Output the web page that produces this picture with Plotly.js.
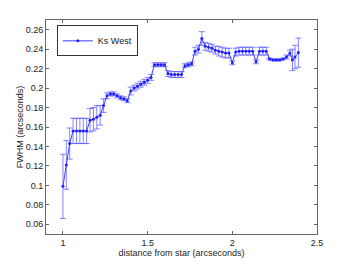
<!DOCTYPE html>
<html><head><meta charset="utf-8">
<script src="https://cdn.plot.ly/plotly-3.0.1.min.js"></script>
<style>html,body{margin:0;padding:0;background:#fff}#c{width:350px;height:263px}</style>
</head><body><div id="c"></div>
<script>
var distance = [1.00,1.02,1.04,1.06,1.08,1.10,1.12,1.14,1.16,1.18,1.20,1.22,1.24,1.26,1.28,1.30,1.32,1.34,1.36,1.38,
 1.40,1.42,1.44,1.46,1.48,1.50,1.52,1.54,1.56,1.58,1.60,1.62,1.64,1.66,1.68,1.70,1.72,1.74,1.76,1.78,
 1.80,1.82,1.84,1.86,1.88,1.90,1.92,1.94,1.96,1.98,2.00,2.02,2.04,2.06,2.08,2.10,2.12,2.14,2.16,2.18,
 2.20,2.22,2.24,2.26,2.28,2.30,2.32,2.34,2.355,2.37,2.39];
var fwhm = [0.099,0.121,0.143,0.156,0.156,0.156,0.156,0.156,0.167,0.168,0.170,0.172,0.182,0.192,0.194,0.194,0.192,0.190,0.189,0.187,
 0.197,0.200,0.202,0.204,0.206,0.208,0.211,0.224,0.224,0.224,0.224,0.215,0.214,0.214,0.214,0.214,0.223,0.224,0.225,0.238,
 0.240,0.251,0.243,0.242,0.241,0.239,0.238,0.237,0.236,0.236,0.226,0.237,0.238,0.238,0.238,0.238,0.238,0.227,0.238,0.238,
 0.238,0.230,0.229,0.229,0.229,0.230,0.232,0.236,0.229,0.232,0.2365];
var fwhmErr = [0.033,0.025,0.016,0.013,0.013,0.013,0.013,0.013,0.012,0.012,0.012,0.010,0.007,0.003,0.002,0.002,0.002,0.002,0.002,0.002,
 0.004,0.003,0.003,0.003,0.003,0.003,0.003,0.002,0.002,0.002,0.002,0.003,0.003,0.003,0.003,0.003,0.002,0.002,0.002,0.004,
 0.004,0.007,0.004,0.004,0.004,0.004,0.005,0.005,0.005,0.005,0.002,0.004,0.004,0.004,0.004,0.004,0.004,0.002,0.004,0.004,
 0.004,0.001,0.001,0.001,0.001,0.001,0.002,0.003,0.011,0.012,0.015];
var xTicks = [1, 1.5, 2, 2.5];
var xTickText = ['1', '1.5', '2', '2.5'];
var yTicks = [0.06,0.08,0.1,0.12,0.14,0.16,0.18,0.2,0.22,0.24,0.26];
var yTickText = ['0.06','0.08','0.1','0.12','0.14','0.16','0.18','0.2','0.22','0.24','0.26'];

var trace = {
  x: distance, y: fwhm, type: 'scatter', mode: 'lines+markers', name: 'Ks West',
  line: {color: 'rgb(60,60,255)', width: 1},
  marker: {color: 'rgb(30,30,255)', size: 3},
  error_y: {type: 'data', array: fwhmErr, visible: true, color: 'rgba(80,80,255,0.7)', thickness: 1, width: 3}
};
var axisCommon = {
  showgrid: false, zeroline: false, showline: true, linecolor: '#666', linewidth: 1, mirror: 'ticks',
  ticks: 'inside', ticklen: 3, tickcolor: '#666', tickfont: {family: 'Liberation Sans, Arial', size: 9, color: '#222'}
};
var layout = {
  width: 350, height: 263, margin: {l: 46, r: 33, t: 20, b: 29},
  paper_bgcolor: '#fff', plot_bgcolor: '#fff', font: {family: 'Liberation Sans, Arial', size: 9, color: '#222'},
  xaxis: Object.assign({}, axisCommon, {range: [0.9, 2.5], tickmode: 'array', tickvals: xTicks, ticktext: xTickText,
    title: {text: 'distance from star (arcseconds)', font: {size: 9}, standoff: 1}}),
  yaxis: Object.assign({}, axisCommon, {range: [0.05, 0.27], tickmode: 'array', tickvals: yTicks, ticktext: yTickText,
    title: {text: 'FWHM (arcseconds)', font: {size: 9}, standoff: 0}}),
  showlegend: true,
  legend: {x: 0.04, y: 0.975, xanchor: 'left', yanchor: 'top', bordercolor: '#333', borderwidth: 1, bgcolor: '#fff',
    font: {size: 9}, itemwidth: 30, tracegroupgap: 0}
};
Plotly.newPlot('c', [trace], layout, {staticPlot: true, displayModeBar: false});
</script></body></html>
